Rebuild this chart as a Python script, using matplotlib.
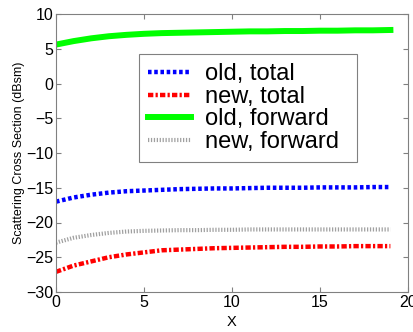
import matplotlib
matplotlib.use('Agg')
import matplotlib.pyplot as plt

plt.rcParams['font.family'] = ['Liberation Sans', 'DejaVu Sans']

x = [0, 1, 2, 3, 4, 5, 6, 7, 8, 9, 10, 11, 12, 13, 14, 15, 16, 17, 18, 19]
old_total = [-17.0, -16.4, -16.0, -15.7, -15.5, -15.4, -15.3, -15.2, -15.15, -15.1,
             -15.1, -15.05, -15.0, -15.0, -15.0, -14.95, -14.95, -14.95, -14.9, -14.9]
new_total = [-27.1, -26.2, -25.6, -25.0, -24.6, -24.3, -24.0, -23.9, -23.8, -23.7,
             -23.65, -23.6, -23.55, -23.5, -23.5, -23.45, -23.45, -23.4, -23.4, -23.4]
old_forward = [5.6, 6.1, 6.5, 6.8, 7.0, 7.15, 7.25, 7.3, 7.35, 7.4,
               7.45, 7.5, 7.5, 7.55, 7.55, 7.6, 7.6, 7.65, 7.65, 7.7]
new_forward = [-22.9, -22.2, -21.8, -21.5, -21.3, -21.2, -21.15, -21.1, -21.1, -21.05,
               -21.05, -21.0, -21.0, -21.0, -21.0, -21.0, -21.0, -21.0, -21.0, -21.0]

fig = plt.figure(figsize=(4.14, 3.32), dpi=100)
ax = fig.add_axes([56/414, 40/332, 352/414, 278/332])

ax.plot(x, old_total, color='#0000ff', lw=3.2, linestyle=(0, (0.8, 0.6)), label='old, total')
ax.plot(x, new_total, color='#ff0000', lw=3.2, linestyle=(0, (1.2, 0.5, 0.5, 0.5)), label='new, total')
ax.plot(x, old_forward, color='#00ff00', lw=4.3, label='old, forward')
ax.plot(x, new_forward, color='#a0a0a0', lw=3, linestyle=(0, (0.3, 0.4)), label='new, forward')

ax.set_xlim(0, 20)
ax.set_ylim(-30, 10)
ax.set_xticks([0, 5, 10, 15, 20])
ax.set_yticks(range(-30, 11, 5))
ax.tick_params(direction='in', top=True, right=True, labelsize=11.5, color='#808080', pad=2)
for s in ax.spines.values():
    s.set_color('#808080')
ax.set_xlabel('X', fontsize=10.5, labelpad=4)
ax.set_ylabel('Scattering Cross Section (dBsm)', fontsize=9, labelpad=0.5)

leg = ax.legend(loc='upper left', bbox_to_anchor=(83/352, 0, 218/352, 1 - 40/278),
                mode='expand', borderaxespad=0, fontsize=17,
                handlelength=1.8, handletextpad=0.6, labelspacing=0.02,
                borderpad=0.4, fancybox=False, framealpha=1)
leg.get_frame().set_edgecolor('#808080')
leg.get_frame().set_linewidth(0.8)

fig.savefig('out.png', dpi=100)
